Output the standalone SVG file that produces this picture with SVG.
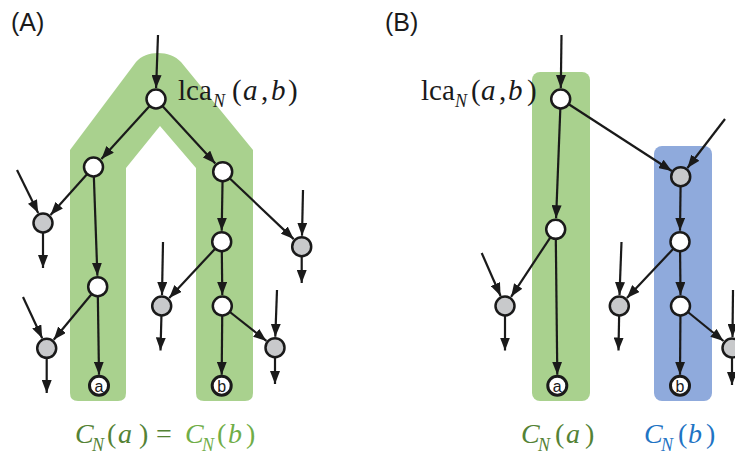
<svg xmlns="http://www.w3.org/2000/svg" width="735" height="457" viewBox="0 0 735 457">
<style>
.e{stroke:#1a1a1a;stroke-width:2.2;fill:none;marker-end:url(#ah)}
.w{fill:#ffffff;stroke:#1a1a1a;stroke-width:2.5}
.g{fill:#c8c9cb;stroke:#1a1a1a;stroke-width:2.5}
.leaf{fill:#ffffff;stroke:#1a1a1a;stroke-width:3}
.lt{font-family:"Liberation Sans","DejaVu Sans",sans-serif;font-size:16px;fill:#1a1a1a;text-anchor:middle}
.pan{font-family:"Liberation Sans","DejaVu Sans",sans-serif;font-size:25px;fill:#1a1a1a}
.m{font-family:"Liberation Serif","DejaVu Serif",serif;font-size:29px;fill:#1a1a1a}
.it{font-style:italic}
.sub{font-size:18px;font-style:italic}
.cm{font-family:"Liberation Serif","DejaVu Serif",serif;font-size:28px}
</style>
<defs>
<marker id="ah" markerUnits="userSpaceOnUse" markerWidth="13" markerHeight="10" refX="13" refY="5" orient="auto">
<path d="M0,0 L13,5 L0,10 z" fill="#1a1a1a"/>
</marker>
</defs>
<g id="bands">
<path id="bandA" d="M70,150 L136,62 C146,50 170,50 181,62 L253,150 L253,393 Q253,401 245,401 L204,401 Q196,401 196,393 L196,168 L160,126 L126,168 L126,393 Q126,401 118,401 L78,401 Q70,401 70,393 Z" fill="#a9d18e"/>
<rect id="bandBa" x="532" y="72" width="58" height="329" rx="8" fill="#a9d18e"/>
<rect id="bandBb" x="654" y="146" width="58" height="255" rx="8" fill="#8faadc"/>
</g>
<g id="connectors">
<line class="e" x1="158" y1="35" x2="156.1" y2="88"/>
<line class="e" x1="156" y1="99" x2="101.4" y2="158.9"/>
<line class="e" x1="156" y1="99" x2="215.3" y2="163.6"/>
<line class="e" x1="93.5" y1="167" x2="50.5" y2="214.9"/>
<line class="e" x1="17" y1="170" x2="38.2" y2="213.1"/>
<line class="e" x1="43" y1="223" x2="43" y2="268"/>
<line class="e" x1="93.5" y1="167" x2="97.4" y2="275.7"/>
<line class="e" x1="97.7" y1="286.7" x2="53.7" y2="339.8"/>
<line class="e" x1="23" y1="297" x2="42.2" y2="338.3"/>
<line class="e" x1="46.7" y1="348.3" x2="46.7" y2="393"/>
<line class="e" x1="97.7" y1="286.7" x2="99" y2="374.7"/>
<line class="e" x1="222.7" y1="171.7" x2="221.7" y2="230.7"/>
<line class="e" x1="222.7" y1="171.7" x2="293.7" y2="239.1"/>
<line class="e" x1="303" y1="190" x2="302" y2="235.7"/>
<line class="e" x1="301.7" y1="246.7" x2="301.7" y2="283"/>
<line class="e" x1="221.7" y1="241.7" x2="169.2" y2="298"/>
<line class="e" x1="163" y1="242" x2="162" y2="295"/>
<line class="e" x1="161.7" y1="306" x2="160.5" y2="350.5"/>
<line class="e" x1="221.7" y1="241.7" x2="222.3" y2="295"/>
<line class="e" x1="222.3" y1="306" x2="266.4" y2="340.9"/>
<line class="e" x1="277" y1="290" x2="275.3" y2="336.7"/>
<line class="e" x1="275" y1="347.7" x2="275" y2="384"/>
<line class="e" x1="222.3" y1="306" x2="221.7" y2="374.7"/>
<line class="e" x1="561.5" y1="35" x2="560.8" y2="88"/>
<line class="e" x1="560.7" y1="99" x2="671.8" y2="171"/>
<line class="e" x1="725" y1="119" x2="687.4" y2="168"/>
<line class="e" x1="680.7" y1="176.7" x2="680" y2="230.7"/>
<line class="e" x1="560.7" y1="99" x2="556.1" y2="218.3"/>
<line class="e" x1="555.7" y1="229.3" x2="511.1" y2="296.8"/>
<line class="e" x1="481.7" y1="253" x2="500.6" y2="296"/>
<line class="e" x1="505" y1="306" x2="505" y2="350.5"/>
<line class="e" x1="555.7" y1="229.3" x2="557.3" y2="374.7"/>
<line class="e" x1="680" y1="241.7" x2="626.9" y2="298"/>
<line class="e" x1="621.5" y1="242" x2="619.5" y2="295"/>
<line class="e" x1="619.3" y1="306" x2="618.5" y2="350.5"/>
<line class="e" x1="680" y1="241.7" x2="680.5" y2="295"/>
<line class="e" x1="680.5" y1="306" x2="723.5" y2="341"/>
<line class="e" x1="733" y1="290" x2="732.5" y2="337"/>
<line class="e" x1="732" y1="348" x2="732" y2="385"/>
<line class="e" x1="680.5" y1="306" x2="680" y2="374.7"/>
</g>
<g id="nodesA">
<circle id="A_lca" class="w" cx="156" cy="99" r="9.5"/>
<circle id="A_L1" class="w" cx="93.5" cy="167" r="9.5"/>
<circle id="A_R1" class="w" cx="222.7" cy="171.7" r="9.5"/>
<circle id="A_G1" class="g" cx="43" cy="223" r="9.5"/>
<circle id="A_W2" class="w" cx="97.7" cy="286.7" r="9.5"/>
<circle id="A_G2" class="g" cx="46.7" cy="348.3" r="9.5"/>
<circle id="A_W3" class="w" cx="221.7" cy="241.7" r="9.5"/>
<circle id="A_G3" class="g" cx="301.7" cy="246.7" r="9.5"/>
<circle id="A_G4" class="g" cx="161.7" cy="306" r="9.5"/>
<circle id="A_W4" class="w" cx="222.3" cy="306" r="9.5"/>
<circle id="A_G5" class="g" cx="275" cy="347.7" r="9.5"/>
<g id="A_leafa"><circle class="leaf" cx="99" cy="385.7" r="9.5"/><text class="lt" x="99" y="392">a</text></g>
<g id="A_leafb"><circle class="leaf" cx="221.7" cy="385.7" r="9.5"/><text class="lt" x="221.7" y="392">b</text></g>
</g>
<g id="nodesB">
<circle id="B_lca" class="w" cx="560.7" cy="99" r="9.5"/>
<circle id="B_Gt" class="g" cx="680.7" cy="176.7" r="9.5"/>
<circle id="B_Wb1" class="w" cx="680" cy="241.7" r="9.5"/>
<circle id="B_Wa" class="w" cx="555.7" cy="229.3" r="9.5"/>
<circle id="B_Ga" class="g" cx="505" cy="306" r="9.5"/>
<circle id="B_Gb" class="g" cx="619.3" cy="306" r="9.5"/>
<circle id="B_Wb2" class="w" cx="680.5" cy="306" r="9.5"/>
<circle id="B_Gc" class="g" cx="732" cy="348" r="9.5"/>
<g id="B_leafa"><circle class="leaf" cx="557.3" cy="385.7" r="9.5"/><text class="lt" x="557.3" y="392">a</text></g>
<g id="B_leafb"><circle class="leaf" cx="680" cy="385.7" r="9.5"/><text class="lt" x="680" y="392">b</text></g>
</g>
<g id="labels">
<text class="pan" x="11" y="31">(A)</text>
<text class="pan" x="385" y="31">(B)</text>
<text class="m" y="100"><tspan x="178">lca</tspan><tspan class="sub" x="213" y="107">N</tspan><tspan x="232" y="100">(</tspan><tspan class="it" x="243">a</tspan><tspan x="261">,</tspan><tspan class="it" x="271">b</tspan><tspan x="288">)</tspan></text>
<text class="m" y="100"><tspan x="421">lca</tspan><tspan class="sub" x="455" y="107">N</tspan><tspan x="471" y="100">(</tspan><tspan class="it" x="481">a</tspan><tspan x="499">,</tspan><tspan class="it" x="508">b</tspan><tspan x="527">)</tspan></text>
<text class="cm" y="443" fill="#548235"><tspan class="it" x="75">C</tspan><tspan class="sub" x="92" y="451">N</tspan><tspan x="107" y="443">(</tspan><tspan class="it" x="118">a</tspan><tspan x="139">)</tspan><tspan x="156">=</tspan></text>
<text class="cm" y="443" fill="#70ad47"><tspan class="it" x="185">C</tspan><tspan class="sub" x="202" y="451">N</tspan><tspan x="217" y="443">(</tspan><tspan class="it" x="228">b</tspan><tspan x="246">)</tspan></text>
<text class="cm" y="443" fill="#548235"><tspan class="it" x="521">C</tspan><tspan class="sub" x="538" y="451">N</tspan><tspan x="555" y="443">(</tspan><tspan class="it" x="566">a</tspan><tspan x="585">)</tspan></text>
<text class="cm" y="443" fill="#1f74c4"><tspan class="it" x="644">C</tspan><tspan class="sub" x="661" y="451">N</tspan><tspan x="678" y="443">(</tspan><tspan class="it" x="688">b</tspan><tspan x="706">)</tspan></text>
</g>
</svg>
